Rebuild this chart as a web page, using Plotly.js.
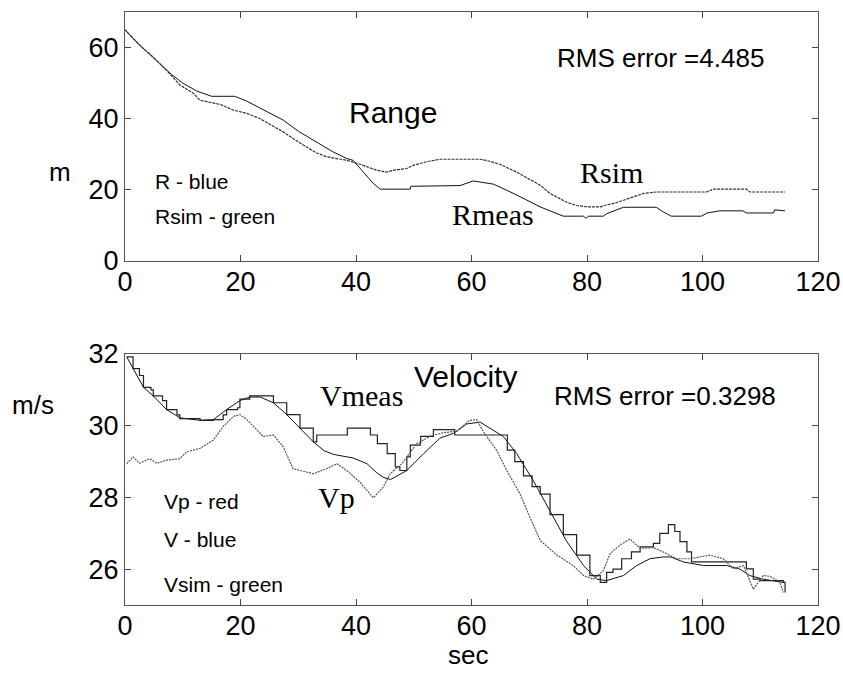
<!DOCTYPE html>
<html>
<head>
<meta charset="utf-8">
<script src="https://cdn.plot.ly/plotly-3.0.1.min.js"></script>
<style>html,body{margin:0;padding:0;background:#fff;}#chart{width:843px;height:674px;}</style>
</head>
<body>
<div id="chart"></div>
<script>
// ---- Range panel ----
var rmeasX = [0, 2, 4, 6, 8, 10, 12.4, 15, 19, 21, 24, 27.4, 30, 32, 34, 36, 38.4, 39.5, 41, 43, 44.2, 49.4, 49.5, 58, 60.3, 61.3, 63.8, 66.1, 68, 69.6, 71.9, 74.2, 75.9, 79.4, 79.8, 80.3, 82.8, 83.4, 86.3, 92, 93.2, 94.6, 99.8, 100.8, 103, 107, 107.6, 112.3, 112.5, 114.3];
var rmeasY = [65, 61.5, 58.5, 55.5, 52.5, 50, 47.8, 46.3, 46.3, 45, 42.4, 39.6, 36.5, 34.5, 32.5, 30.7, 28.8, 28.3, 25.5, 21.8, 20.2, 20.2, 21, 21.2, 22.5, 22.3, 21.6, 19.9, 18.5, 17.1, 15.2, 13.8, 12.6, 12.6, 12, 12.6, 12.6, 13.3, 15.1, 15.1, 13.8, 12.6, 12.6, 13.5, 14.1, 14.1, 13.5, 13.5, 14.4, 14.1];
var rsimX = [0, 2.6, 4.9, 7.2, 9.5, 11.8, 13, 16.5, 18.8, 21.1, 23.4, 25.1, 27.4, 29.5, 31.5, 33, 34.9, 36.5, 38.4, 40.7, 43.6, 45.3, 46.5, 48.8, 49.9, 51.1, 52.2, 54.5, 61.5, 62.5, 64.9, 67.8, 70, 71.9, 73.6, 75.3, 76.5, 78.2, 80, 82.3, 83, 85.1, 87.5, 89.8, 92, 100.7, 101.9, 107.6, 108.2, 114.3];
var rsimY = [65, 60.6, 57.3, 53.6, 49.5, 47.2, 45.2, 44, 42.4, 41.5, 40, 38.5, 36.3, 34, 32.1, 30.5, 29.3, 28.8, 28.3, 27.2, 25.5, 25, 25.5, 26, 26.9, 27.4, 27.9, 28.6, 28.6, 28.3, 27.2, 25, 23, 21.3, 19, 17.6, 16.5, 15.6, 15.2, 15.2, 15.6, 16.4, 17.8, 19, 19.4, 19.4, 20.2, 20.2, 19.4, 19.4];

// ---- Velocity panel ----
var vsimX = [0.3, 1.4, 3.2, 4.9, 7.2, 9.5, 13, 15.3, 17.6, 19.9, 21.6, 23.4, 25.7, 28, 30.3, 32.6, 34.5, 36.1, 39.5, 41.9, 43.5, 44.7, 46, 48.8, 51.7, 54.5, 56.9, 59.2, 61.5, 63.5, 65.5, 67.8, 70.7, 73.6, 76.5, 79.4, 81.7, 83.4, 86.3, 88.6, 90.9, 93.2, 94.5, 96.7, 100.2, 104.2, 106.5, 108.2, 110.5, 114];
var vsimY = [31.92, 31.59, 31.07, 30.83, 30.45, 30.22, 30.15, 30.17, 30.45, 30.7, 30.8, 30.8, 30.64, 30.31, 29.93, 29.55, 29.3, 29.2, 29.1, 28.94, 28.7, 28.56, 28.5, 28.75, 29.22, 29.65, 29.79, 30.05, 30.1, 29.9, 29.7, 29.23, 28.47, 27.62, 26.77, 26.1, 25.72, 25.68, 25.82, 26.1, 26.29, 26.34, 26.34, 26.2, 26.1, 26.1, 26.0, 25.82, 25.72, 25.63];
var vmeasX = [0.3, 1.4, 2.5, 3.2, 4.5, 4.9, 6.5, 7.2, 9, 9.5, 13, 15.3, 17, 17.6, 19.5, 19.9, 21.6, 23.4, 25.7, 28, 30.3, 32.6, 33.2, 38.4, 38.5, 42.4, 42.5, 43.6, 43.7, 45.3, 45.4, 46.8, 47.6, 48.8, 49.4, 51.1, 51.2, 53.4, 57.1, 66.1, 66.2, 67.5, 69, 70.5, 71.9, 73.6, 75.9, 78.2, 80.5, 82.3, 83.1, 83.4, 84.5, 86, 87.7, 89.2, 91.5, 92.6, 93.8, 94.1, 94.7, 95.2, 96.1, 97.3, 98.1, 104.2, 107.6, 108.8, 110, 114, 114.3];
var vmeasY = [31.92, 31.59, 31.4, 31.07, 31.0, 30.83, 30.7, 30.45, 30.3, 30.2, 30.15, 30.17, 30.3, 30.45, 30.5, 30.74, 30.83, 30.83, 30.64, 30.31, 29.93, 29.55, 29.74, 29.74, 29.93, 29.93, 29.74, 29.74, 29.5, 29.5, 29.22, 28.85, 28.75, 29.13, 29.46, 29.51, 29.7, 29.89, 29.74, 29.74, 29.32, 29.0, 28.6, 28.3, 28.09, 27.52, 26.96, 26.39, 25.82, 25.63, 25.63, 25.91, 26.0, 26.29, 26.48, 26.62, 26.72, 27.0, 27.0, 27.24, 27.24, 27.05, 26.77, 26.48, 26.2, 26.2, 26.01, 25.72, 25.68, 25.63, 25.35];
var vpX = [0.3, 1.4, 2.5, 4.3, 5.5, 7.2, 9.5, 10.7, 13, 15.3, 17, 18.8, 19.9, 21.1, 22.8, 23.9, 25.7, 27.4, 29.1, 30.5, 32.6, 34.9, 36.7, 38.4, 40.7, 43, 44.7, 45.9, 48, 50.5, 53, 55, 57.5, 59.7, 60.9, 62, 64.4, 66.1, 68.4, 70.1, 71.9, 74.8, 77.6, 79.4, 81.1, 82.8, 84, 85.7, 87.4, 88.6, 89.2, 91.5, 93.2, 95.5, 97.8, 101.3, 103.6, 105.3, 107.1, 108.8, 110.5, 111.7, 113.4, 114];
var vpY = [28.94, 29.13, 28.95, 29.08, 28.95, 29.04, 29.08, 29.27, 29.37, 29.6, 29.98, 30.26, 30.31, 30.17, 29.89, 29.7, 29.74, 29.41, 28.8, 28.75, 28.66, 28.8, 28.94, 28.75, 28.42, 27.99, 28.28, 28.66, 28.95, 29.5, 29.72, 29.8, 29.85, 30.15, 30.17, 29.85, 29.3, 28.75, 28.1, 27.45, 26.8, 26.39, 26.1, 25.82, 25.72, 25.95, 26.43, 26.67, 26.84, 26.67, 26.58, 26.6, 26.48, 26.29, 26.29, 26.39, 26.29, 26.01, 26.1, 25.44, 25.82, 25.8, 25.63, 25.35];

var xTicks = [0, 20, 40, 60, 80, 100, 120];
var rTicks = [0, 20, 40, 60];
var vTicks = [26, 28, 30, 32];

var sans = 'Arial, "Liberation Sans", Helvetica, sans-serif';
var serif = '"Times New Roman", "Liberation Serif", Times, serif';

var traces = [
  {x: rmeasX, y: rmeasY, xaxis: 'x', yaxis: 'y', mode: 'lines', name: 'Rmeas', line: {color: '#111', width: 1}},
  {x: rsimX, y: rsimY, xaxis: 'x', yaxis: 'y', mode: 'lines', name: 'Rsim', line: {color: '#333', width: 1.2, dash: '3px,1px'}},
  {x: vsimX, y: vsimY, xaxis: 'x2', yaxis: 'y2', mode: 'lines', name: 'Vsim', line: {color: '#111', width: 1}},
  {x: vmeasX, y: vmeasY, xaxis: 'x2', yaxis: 'y2', mode: 'lines', name: 'Vmeas', line: {color: '#222', width: 1.2, shape: 'hv'}},
  {x: vpX, y: vpY, xaxis: 'x2', yaxis: 'y2', mode: 'lines', name: 'Vp', line: {color: '#555', width: 1.2, dash: '2px,1px'}}
];

function xax(anchor) {
  return {domain: [0, 1], range: [0, 120], anchor: anchor, tickvals: xTicks, ticktext: xTicks.map(String),
    ticks: 'inside', ticklen: 6, tickcolor: '#444', showline: true, linecolor: '#555', linewidth: 1,
    mirror: 'ticks', showgrid: false, zeroline: false, ticklabelstandoff: -3,
    tickfont: {family: sans, size: 27, color: '#000'}};
}
function yax(anchor, dom, rng, tv) {
  return {domain: dom, range: rng, anchor: anchor, tickvals: tv, ticktext: tv.map(String),
    ticks: 'inside', ticklen: 6, tickcolor: '#444', showline: true, linecolor: '#555', linewidth: 1,
    mirror: 'ticks', showgrid: false, zeroline: false, tickfont: {family: sans, size: 27, color: '#000'}};
}

var layout = {
  width: 843, height: 674,
  margin: {l: 125, r: 25, t: 12, b: 69},
  paper_bgcolor: '#fff', plot_bgcolor: '#fff',
  showlegend: false,
  xaxis: xax('y'),
  yaxis: yax('x', [0.5801, 1], [0, 70], rTicks),
  xaxis2: xax('y2'),
  yaxis2: yax('x2', [0, 0.4233], [25, 32], vTicks),
  annotations: [
    {xref: 'x', yref: 'y', x: 92.8, y: 57.2, text: 'RMS error =4.485', showarrow: false, font: {family: sans, size: 26, color: '#000'}},
    {xref: 'x', yref: 'y', x: 46.4, y: 41.8, text: 'Range', showarrow: false, font: {family: sans, size: 30, color: '#000'}},
    {xref: 'x', yref: 'y', x: 4.8, y: 22.4, xanchor: 'left', text: 'R - blue', showarrow: false, font: {family: sans, size: 21, color: '#000'}},
    {xref: 'x', yref: 'y', x: 4.8, y: 12.6, xanchor: 'left', text: 'Rsim - green', showarrow: false, font: {family: sans, size: 21, color: '#000'}},
    {xref: 'x', yref: 'y', x: 84.2, y: 25, text: 'Rsim', showarrow: false, font: {family: serif, size: 30, color: '#000'}},
    {xref: 'x', yref: 'y', x: 63.7, y: 13.2, text: 'Rmeas', showarrow: false, font: {family: serif, size: 30, color: '#000'}},
    {xref: 'paper', yref: 'paper', x: -0.0938, y: 0.730, xanchor: 'center', yanchor: 'middle', text: 'm', showarrow: false, font: {family: sans, size: 26, color: '#000'}},
    {xref: 'x2', yref: 'y2', x: 58.9, y: 31.36, text: 'Velocity', showarrow: false, font: {family: sans, size: 30, color: '#000'}},
    {xref: 'x2', yref: 'y2', x: 41.0, y: 30.85, text: 'Vmeas', showarrow: false, font: {family: serif, size: 30, color: '#000'}},
    {xref: 'x2', yref: 'y2', x: 93.5, y: 30.82, text: 'RMS error =0.3298', showarrow: false, font: {family: sans, size: 26, color: '#000'}},
    {xref: 'x2', yref: 'y2', x: 36.7, y: 27.99, text: 'Vp', showarrow: false, font: {family: serif, size: 30, color: '#000'}},
    {xref: 'x2', yref: 'y2', x: 6.4, y: 27.9, xanchor: 'left', text: 'Vp - red', showarrow: false, font: {family: sans, size: 21, color: '#000'}},
    {xref: 'x2', yref: 'y2', x: 6.4, y: 26.82, xanchor: 'left', text: 'V - blue', showarrow: false, font: {family: sans, size: 21, color: '#000'}},
    {xref: 'x2', yref: 'y2', x: 6.4, y: 25.57, xanchor: 'left', text: 'Vsim - green', showarrow: false, font: {family: sans, size: 21, color: '#000'}},
    {xref: 'paper', yref: 'paper', x: -0.1328, y: 0.337, xanchor: 'center', yanchor: 'middle', text: 'm/s', showarrow: false, font: {family: sans, size: 26, color: '#000'}},
    {xref: 'paper', yref: 'paper', x: 0.495, y: -0.0843, xanchor: 'center', yanchor: 'middle', text: 'sec', showarrow: false, font: {family: sans, size: 26, color: '#000'}}
  ]
};

Plotly.newPlot('chart', traces, layout, {staticPlot: true, displayModeBar: false});
</script>
</body>
</html>
